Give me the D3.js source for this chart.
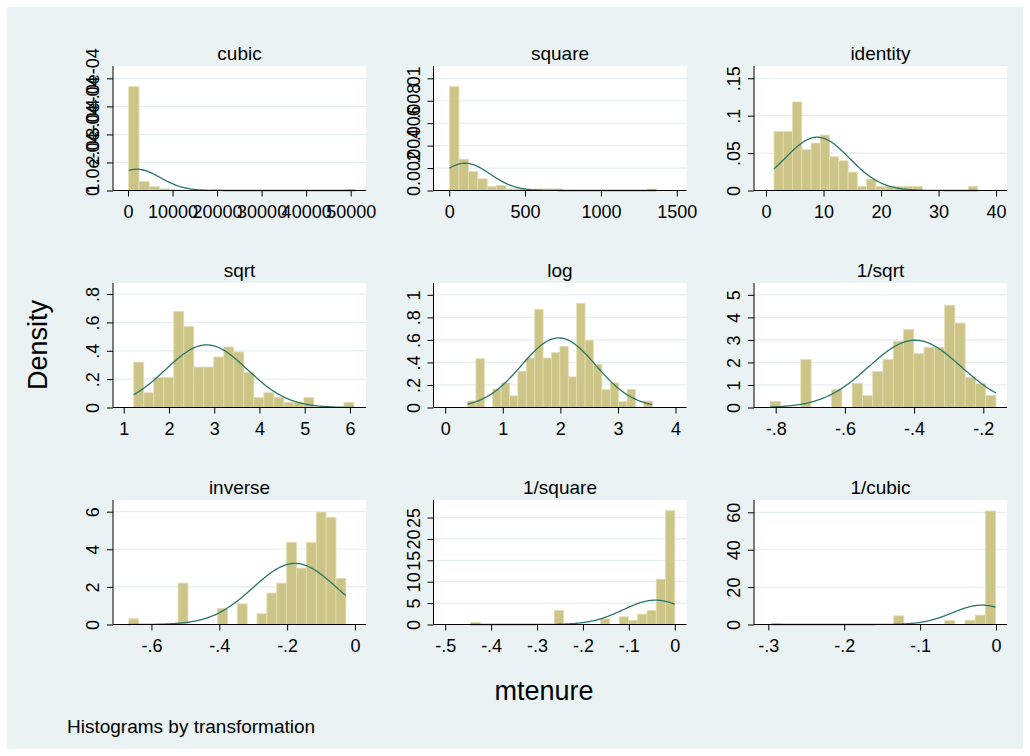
<!DOCTYPE html>
<html>
<head>
<meta charset="utf-8">
<script src="https://cdn.jsdelivr.net/npm/d3@7"></script>
<style>
  body { margin: 0; background: #fff; }
  text { font-family: "Liberation Sans", Arial, Helvetica, sans-serif; fill: #000; }
</style>
</head>
<body>
<div id="chart"></div>
<script>
// histograms of mtenure under the ladder of powers
const panelNames = ["cubic", "square", "identity", "sqrt", "log", "1/sqrt", "inverse", "1/square", "1/cubic"];

// first bin edge and bin width for each panel (22 bins each)
const binStart = [150, 2.2, 1.39, 1.221, 0.388, -0.8164, -0.6669, -0.4444, -0.2960];
const binWidth = [2313, 62.0, 1.61, 0.2212, 0.1458, 0.02968, 0.02909, 0.0202, 0.01343];

// bar densities
const densCubic = [3.70e-4, 3.2e-5, 1.42e-5, 6e-6, 3.7e-6, 0, 0, 0, 3.7e-6, 0, 0, 0, 0, 0, 0, 0, 0, 0, 0, 0, 0, 3.7e-6];
const densSquare = [.00926, .00279, .00169, .00104, .00036, .00045, .00014, .00014, 0, .00014, .00014, .00014, 0, 0, 0, 0, 0, 0, 0, 0, 0, .00014];
const densIdentity = [.079, .079, .1183, .0545, .0634, .0741, .0451, .0397, .0246, .0054, .0152, .0054, .0054, .0054, .0054, .0054, 0, 0, 0, 0, 0, .0054];
const densSqrt = [.320, .104, .211, .211, .677, .570, .285, .285, .356, .427, .392, .249, .071, .104, .071, .036, .036, .071, 0, 0, 0, .036];
const densLog = [.058, .433, 0, .164, .218, .104, .322, .439, .872, .439, .487, .543, .272, .925, .597, .382, .158, .218, .054, .161, 0, .058];
const densInvSqrt = [.27, 0, 0, 2.13, 0, 0, .80, 0, 1.07, .54, 1.6, 2.13, 2.94, 3.46, 2.40, 2.67, 2.67, 4.54, 3.75, 1.34, 1.06, .54];
const densInverse = [.30, 0, 0, 0, 0, 2.2, 0, 0, 0, .85, 0, 1.1, 0, .57, 1.67, 2.2, 4.37, 3.0, 4.37, 5.98, 5.7, 2.45];
const densInvSquare = [.5, 0, 0, 0, 0, 0, 0, 0, 0, 3.28, 0, 0, 0, 0, 1.33, 0, 1.8, 1.0, 2.42, 3.28, 10.6, 26.6];
const densInvCubic = [.63, 0, 0, 0, 0, 0, 0, 0, 0, 0, 0, 0, 4.64, 0, 0, 0, 0, 2.14, 0, 2.3, 5.0, 60.7];
const allDens = [densCubic, densSquare, densIdentity, densSqrt, densLog, densInvSqrt, densInverse, densInvSquare, densInvCubic];

// normal overlay : mean and sd estimated from the drawn curves
const normMean = [2000, 105, 8.9, 2.83, 1.971, -0.3974, -0.177, -0.0422, -0.0189];
const normSd = [5250, 164, 5.6, 0.9036, 0.6455, 0.1336, 0.1228, 0.070, 0.0385];

// axis ranges
const xMin = [-3372, -103.6, -2.09, 0.763, -0.2035, -0.8627, -0.7133, -0.5255, -0.3189];
const xMax = [53440, 1564, 41.9, 6.354, 4.191, -0.1315, 0.0325, 0.0255, 0.0145];
const yMax = [4.44e-4, 0.0111, 0.1664, 0.878, 1.105, 5.526, 6.62, 29.1, 66.6];

// ticks
const xTicks = [
  [0, 10000, 20000, 30000, 40000, 50000],
  [0, 500, 1000, 1500],
  [0, 10, 20, 30, 40],
  [1, 2, 3, 4, 5, 6],
  [0, 1, 2, 3, 4],
  [-.8, -.6, -.4, -.2],
  [-.6, -.4, -.2, 0],
  [-.5, -.4, -.3, -.2, -.1, 0],
  [-.3, -.2, -.1, 0]
];
const xTickLabels = [
  ["0", "10000", "20000", "30000", "40000", "50000"],
  ["0", "500", "1000", "1500"],
  ["0", "10", "20", "30", "40"],
  ["1", "2", "3", "4", "5", "6"],
  ["0", "1", "2", "3", "4"],
  ["-.8", "-.6", "-.4", "-.2"],
  ["-.6", "-.4", "-.2", "0"],
  ["-.5", "-.4", "-.3", "-.2", "-.1", "0"],
  ["-.3", "-.2", "-.1", "0"]
];
const yTicks = [
  [0, 1e-4, 2e-4, 3e-4, 4e-4],
  [0, .002, .004, .006, .008, .01],
  [0, .05, .1, .15],
  [0, .2, .4, .6, .8],
  [0, .2, .4, .6, .8, 1],
  [0, 1, 2, 3, 4, 5],
  [0, 2, 4, 6],
  [0, 5, 10, 15, 20, 25],
  [0, 20, 40, 60]
];
const yTickLabels = [
  ["0", "1.0e-04", "2.0e-04", "3.0e-04", "4.0e-04"],
  ["0", ".002", ".004", ".006", ".008", ".01"],
  ["0", ".05", ".1", ".15"],
  ["0", ".2", ".4", ".6", ".8"],
  ["0", ".2", ".4", ".6", ".8", "1"],
  ["0", "1", "2", "3", "4", "5"],
  ["0", "2", "4", "6"],
  ["0", "5", "10", "15", "20", "25"],
  ["0", "20", "40", "60"]
];

const W = 1030, H = 756;
const colLeft = [113, 433.5, 754];
const rowTop = [66, 283, 500];
const pw = 253, ph = 124.5;

const barFill = "#cdc587";
const barLine = "#e3ddb0";
const curveColor = "#28756a";
const gridColor = "#e6eef0";

const svg = d3.select("#chart").append("svg")
  .attr("width", W)
  .attr("height", H);

// graph region
svg.append("rect")
  .attr("x", 7).attr("y", 7)
  .attr("width", W - 14).attr("height", H - 14)
  .attr("fill", "#eaf2f3");

panelNames.forEach((name, i) => {
  const left = colLeft[i % 3];
  const top = rowTop[Math.floor(i / 3)];

  const x = d3.scaleLinear().domain([xMin[i], xMax[i]]).range([left, left + pw]);
  const y = d3.scaleLinear().domain([0, yMax[i]]).range([top + ph, top]);

  const g = svg.append("g");

  // plot region
  g.append("rect")
    .attr("x", left).attr("y", top)
    .attr("width", pw).attr("height", ph)
    .attr("fill", "#fff");

  // grid
  g.selectAll(".grid")
    .data(yTicks[i].filter(v => v > 0))
    .enter().append("line")
    .attr("x1", left).attr("x2", left + pw)
    .attr("y1", d => y(d)).attr("y2", d => y(d))
    .attr("stroke", gridColor)
    .attr("stroke-width", 1.2);

  // bars
  const bars = allDens[i].map((d, k) => ({
    x0: binStart[i] + k * binWidth[i],
    x1: binStart[i] + (k + 1) * binWidth[i],
    d: d
  })).filter(b => b.d > 0);

  g.selectAll(".bar")
    .data(bars)
    .enter().append("rect")
    .attr("x", b => x(b.x0))
    .attr("width", b => x(b.x1) - x(b.x0))
    .attr("y", b => y(b.d))
    .attr("height", b => y(0) - y(b.d))
    .attr("fill", barFill)
    .attr("stroke", barLine)
    .attr("stroke-width", 0.8);

  // normal density over the range of the data
  const lo = binStart[i], hi = binStart[i] + allDens[i].length * binWidth[i];
  const m = normMean[i], s = normSd[i];
  const pts = d3.range(0, 201).map(k => {
    const v = lo + (hi - lo) * k / 200;
    return [v, Math.exp(-0.5 * ((v - m) / s) ** 2) / (s * Math.sqrt(2 * Math.PI))];
  });
  g.append("path")
    .attr("d", d3.line().x(p => x(p[0])).y(p => y(p[1]))(pts))
    .attr("fill", "none")
    .attr("stroke", curveColor)
    .attr("stroke-width", 1.3);

  // axes
  const xAxis = d3.axisBottom(x)
    .tickValues(xTicks[i])
    .tickFormat((d, k) => xTickLabels[i][k])
    .tickSize(6)
    .tickPadding(4);
  const gx = g.append("g")
    .attr("transform", `translate(0,${top + ph})`)
    .call(xAxis);
  gx.select(".domain").attr("d", `M${left},0H${left + pw}`).attr("stroke", "#000");
  gx.selectAll(".tick line").attr("stroke", "#000");
  gx.selectAll("text")
    .attr("font-size", 18)
    .attr("dy", null)
    .attr("y", 27.5)
    .attr("fill", "#000")
    .style("font-family", "'Liberation Sans', Arial, sans-serif");

  const yAxis = d3.axisLeft(y)
    .tickValues(yTicks[i])
    .tickFormat((d, k) => yTickLabels[i][k])
    .tickSize(6);
  const gy = g.append("g")
    .attr("transform", `translate(${left},0)`)
    .call(yAxis);
  gy.select(".domain").attr("d", `M0,${top}V${top + ph}`).attr("stroke", "#000");
  gy.selectAll(".tick line").attr("stroke", "#000");
  gy.selectAll("text")
    .attr("font-size", 18)
    .attr("x", null).attr("dy", null)
    .attr("text-anchor", "middle")
    .attr("transform", "translate(-14,0) rotate(-90)")
    .attr("fill", "#000")
    .style("font-family", "'Liberation Sans', Arial, sans-serif");

  // titre du panneau
  g.append("text")
    .attr("x", left + pw / 2)
    .attr("y", top - 6)
    .attr("text-anchor", "middle")
    .attr("font-size", 19)
    .text(name);
});

// axis titles and note
svg.append("text")
  .attr("transform", "translate(47,345) rotate(-90)")
  .attr("text-anchor", "middle")
  .attr("font-size", 27)
  .text("Density");

svg.append("text")
  .attr("x", 544).attr("y", 700)
  .attr("text-anchor", "middle")
  .attr("font-size", 27)
  .text("mtenure");

svg.append("text")
  .attr("x", 67).attr("y", 733)
  .attr("font-size", 19)
  .text("Histograms by transformation");
</script>
</body>
</html>
